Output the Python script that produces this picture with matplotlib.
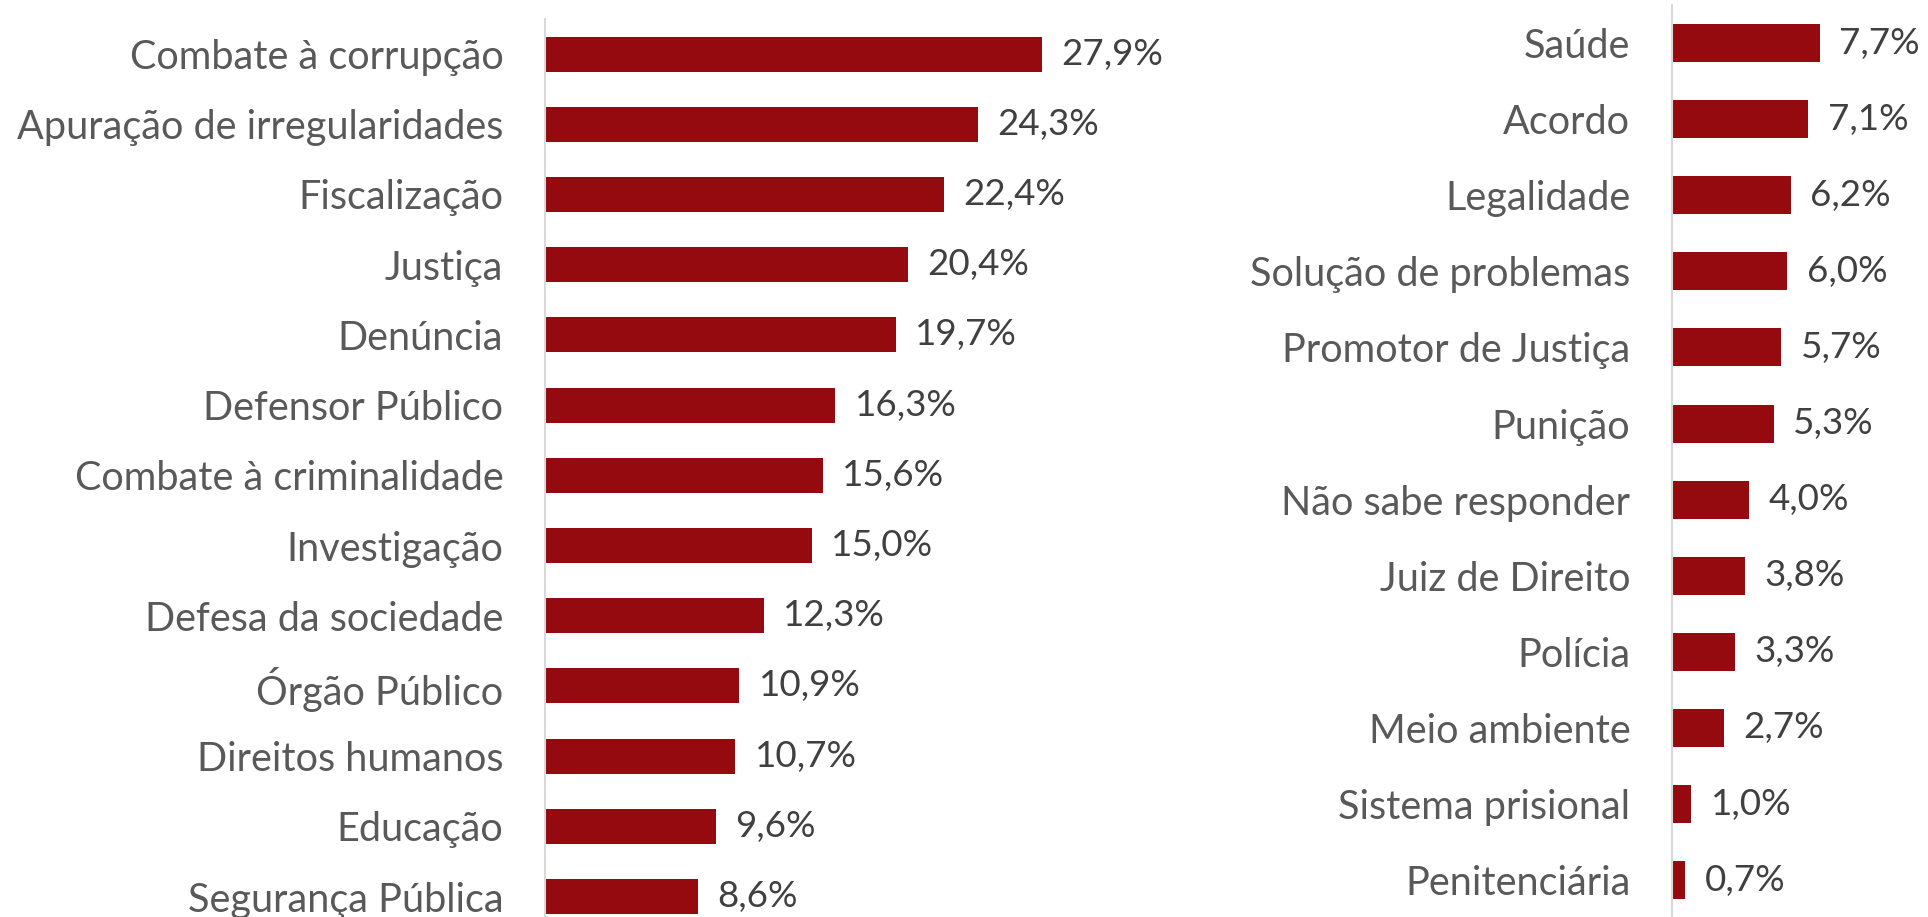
import matplotlib
matplotlib.use("Agg")
import matplotlib.pyplot as plt

left_cats = ["Combate à corrupção", "Apuração de irregularidades", "Fiscalização", "Justiça",
             "Denúncia", "Defensor Público", "Combate à criminalidade", "Investigação",
             "Defesa da sociedade", "Órgão Público", "Direitos humanos", "Educação",
             "Segurança Pública"]
left_vals = [27.9, 24.3, 22.4, 20.4, 19.7, 16.3, 15.6, 15.0, 12.3, 10.9, 10.7, 9.6, 8.6]

right_cats = ["Saúde", "Acordo", "Legalidade", "Solução de problemas", "Promotor de Justiça",
              "Punição", "Não sabe responder", "Juiz de Direito", "Polícia", "Meio ambiente",
              "Sistema prisional", "Penitenciária"]
right_vals = [7.7, 7.1, 6.2, 6.0, 5.7, 5.3, 4.0, 3.8, 3.3, 2.7, 1.0, 0.7]

BAR = "#940A0E"
CAT = "#595959"
VAL = "#404040"
FONT = "Lato"
FS_CAT = 28.5
FS_VAL = 26.5

fig = plt.figure(figsize=(19.28, 9.17), dpi=100)
W, H = 1928, 917

def panel(cats, vals, x0px, scale, xmax, top_px, spacing):
    n = len(cats)
    width_px = xmax * scale
    height_px = n * spacing
    ax = fig.add_axes([x0px / W, 1 - (top_px + height_px) / H, width_px / W, height_px / H])
    ys = list(range(n))
    ax.barh(ys, vals, height=0.5, color=BAR)
    ax.set_ylim(n - 0.5, -0.5)
    ax.set_xlim(0, xmax)
    ax.set_yticks(ys)
    ax.set_yticklabels(cats, fontsize=FS_CAT, color=CAT, family=FONT)
    ax.tick_params(axis="y", length=0, pad=30)
    ax.set_xticks([])
    for s in ["top", "right", "bottom"]:
        ax.spines[s].set_visible(False)
    ax.spines["left"].set_color("#d9d9d9")
    ax.spines["left"].set_linewidth(1.5)
    for y, v in zip(ys, vals):
        ax.annotate(f"{v:.1f}%".replace(".", ","), (v, y), xytext=(14, 0),
                    textcoords="offset points", va="center", ha="left",
                    fontsize=FS_VAL, color=VAL, family=FONT, annotation_clip=False)
    ax.patch.set_alpha(0)
    return ax

panel(left_cats, left_vals, 545, 17.8, 30, 19, 70.2)
panel(right_cats, right_vals, 1672, 19.2, 8.5, 5, 76.1)

fig.savefig("out.png", dpi=100)
